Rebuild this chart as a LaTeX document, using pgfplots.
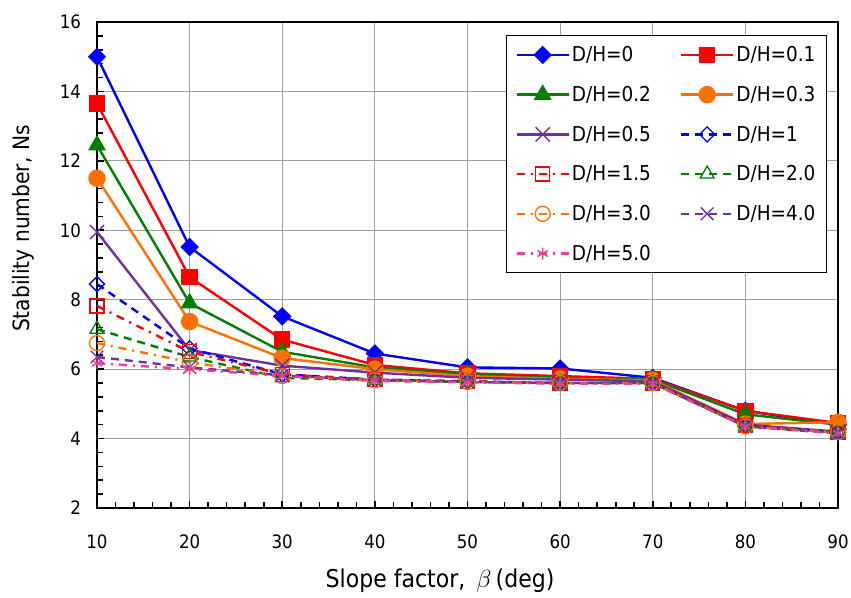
\documentclass[border=0pt]{standalone}
\usepackage{fontspec}
\setmainfont{DejaVu Sans Condensed}
\usepackage{pgfplots}
\pgfplotsset{compat=1.18}
\usepackage{pgfplotstable}

\definecolor{cBlue}{RGB}{0,0,255}
\definecolor{cRed}{RGB}{255,0,0}
\definecolor{cGreen}{RGB}{0,128,0}
\definecolor{cOrange}{RGB}{255,112,0}
\definecolor{cPurple}{RGB}{112,48,160}
\definecolor{cPink}{RGB}{240,60,150}
\definecolor{cGrid}{RGB}{160,160,160}

% Stability number Ns versus slope angle for each depth ratio D/H
\pgfplotstableread{
beta  d0     d01    d02    d03    d05    d1     d15    d2     d3     d4     d5
10    15.00  13.65  12.45  11.50  9.95   8.45   7.82   7.15   6.75   6.35   6.17
20    9.52   8.65   7.90   7.37   6.55   6.60   6.50   6.35   6.20   6.05   6.00
30    7.52   6.85   6.50   6.32   6.10   5.85   5.85   5.75   5.80   5.82   5.80
40    6.45   6.12   6.05   6.00   5.90   5.70   5.70   5.68   5.68   5.68   5.66
50    6.05   5.88   5.85   5.80   5.75   5.65   5.65   5.63   5.63   5.63   5.62
60    6.02   5.80   5.75   5.72   5.70   5.60   5.60   5.60   5.60   5.60   5.58
70    5.75   5.72   5.70   5.68   5.65   5.60   5.60   5.60   5.60   5.60   5.58
80    4.80   4.80   4.70   4.42   4.40   4.38   4.38   4.35   4.35   4.35   4.35
90    4.40   4.45   4.40   4.47   4.20   4.18   4.18   4.18   4.18   4.15   4.15
}\nsdata

\tikzset{
  dashA/.style={dash pattern=on 8pt off 6pt},
  dashB/.style={dash pattern=on 8pt off 6pt on 2pt off 6pt},
}

\begin{document}
\begin{tikzpicture}
\begin{axis}[
  name=ax,
  scale only axis,
  width=741pt, height=486pt,
  xmin=10, xmax=90, ymin=2, ymax=16,
  xtick={10,20,...,90}, ytick={2,4,...,16},
  minor x tick num=4, minor y tick num=4,
  xtick pos=bottom, ytick pos=left,
  tick align=inside,
  major tick length=7pt, minor tick length=6pt,
  tick style={black, line width=1.6pt},
  grid=major,
  major grid style={color=cGrid, line width=1.2pt},
  axis line style={black, line width=2pt},
  /pgf/number format/assume math mode=true,
  every tick label/.append style={font=\fontsize{18.5}{21}\selectfont},
  yticklabel shift=12.5pt,
  xticklabel shift=23pt,
  xlabel={Slope factor,\, {\fontsize{32}{32}\selectfont$\beta$}\,(deg)},
  xlabel style={font=\fontsize{24.5}{27}\selectfont,
    at={([yshift=-79pt]axis description cs:0.463,0)}, anchor=base},
  ylabel={Stability number, Ns},
  ylabel style={font=\fontsize{22.5}{25}\selectfont,
    at={([xshift=-74pt]axis description cs:0,0.575)}, anchor=center},
  legend columns=2,
  legend cell align=left,
  legend style={
    at={(axis description cs:0.9852,0.9733)}, anchor=north east,
    draw=black, line width=1.2pt, fill=white,
    font=\fontsize{20.5}{23}\selectfont,
    inner xsep=9pt, inner ysep=9pt,
    row sep=19pt,
    /tikz/every even column/.append style={column sep=27pt},
  },
  legend image code/.code={
    \draw[mark repeat=2, mark phase=2, #1]
      plot coordinates {(0pt,0pt) (26pt,0pt) (52pt,0pt)};
  },
  every axis plot/.append style={line width=2.4pt},
]
\addplot[cBlue, mark=square*, mark size=5.3pt, mark options={rotate=45, solid}]
  table[x=beta, y=d0] {\nsdata};
\addlegendentry{D/H=0}
\addplot[cRed, mark=square*, mark size=7pt, mark options={solid}]
  table[x=beta, y=d01] {\nsdata};
\addlegendentry{D/H=0.1}
\addplot[cGreen, mark=triangle*, mark size=8pt, mark options={solid}]
  table[x=beta, y=d02] {\nsdata};
\addlegendentry{D/H=0.2}
\addplot[cOrange, mark=*, mark size=7.5pt, mark options={solid}]
  table[x=beta, y=d03] {\nsdata};
\addlegendentry{D/H=0.3}
\addplot[cPurple, mark=x, mark size=10pt, mark options={solid, line width=1.4pt}]
  table[x=beta, y=d05] {\nsdata};
\addlegendentry{D/H=0.5}
\addplot[cBlue, dashA, mark=square, mark size=5.3pt, mark options={rotate=45, solid, fill=white, line width=1.3pt}]
  table[x=beta, y=d1] {\nsdata};
\addlegendentry{D/H=1}
\addplot[cRed, dashB, mark=square, mark size=7pt, mark options={solid, line width=1.3pt}]
  table[x=beta, y=d15] {\nsdata};
\addlegendentry{D/H=1.5}
\addplot[cGreen, dashA, mark=triangle, mark size=8pt, mark options={solid, line width=1.3pt}]
  table[x=beta, y=d2] {\nsdata};
\addlegendentry{D/H=2.0}
\addplot[cOrange, dashB, mark=o, mark size=7.5pt, mark options={solid, line width=1.3pt}]
  table[x=beta, y=d3] {\nsdata};
\addlegendentry{D/H=3.0}
\addplot[cPurple, dashA, mark=x, mark size=9pt, mark options={solid, line width=1.3pt}]
  table[x=beta, y=d4] {\nsdata};
\addlegendentry{D/H=4.0}
\addplot[cPink, dashB, mark=asterisk, mark size=6pt, mark options={solid, line width=1.3pt}]
  table[x=beta, y=d5] {\nsdata};
\addlegendentry{D/H=5.0}
\end{axis}
\pgfresetboundingbox
\path[use as bounding box]
  ([xshift=-97pt,yshift=-89pt]ax.south west) rectangle ([xshift=13pt,yshift=22pt]ax.north east);
\end{tikzpicture}
\end{document}
